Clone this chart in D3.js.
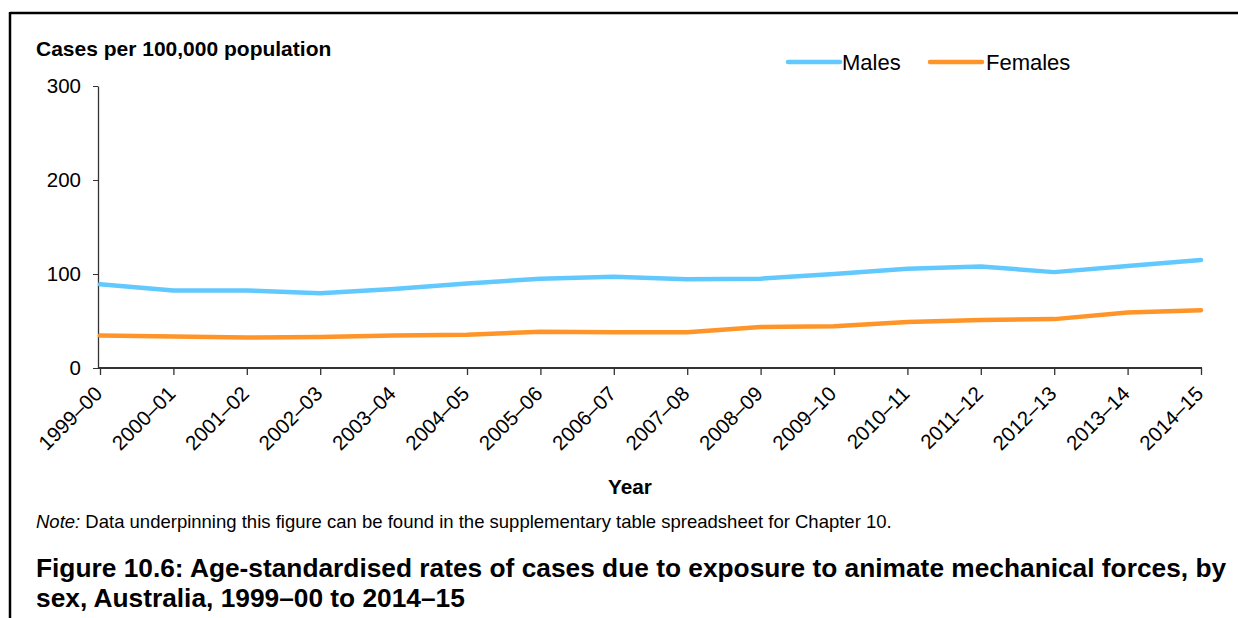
<!DOCTYPE html>
<html><head><meta charset="utf-8">
<script src="https://cdn.jsdelivr.net/npm/d3@7"></script>
<style>body{margin:0;background:#fff}svg{display:block;font-family:Arial,"Liberation Sans",sans-serif}</style>
</head><body><svg id="c" width="1238" height="618"></svg>
<script>
const years = ["1999–00","2000–01","2001–02","2002–03","2003–04","2004–05","2005–06","2006–07","2007–08","2008–09","2009–10","2010–11","2011–12","2012–13","2013–14","2014–15"];
const males = [89, 82.5, 82.5, 79.5, 84, 90, 95, 97, 94.5, 95, 100, 105.5, 108, 102, 108.5, 115];
const females = [34.5, 33.5, 32.5, 33, 34.5, 35.5, 38.5, 38, 38, 43.5, 44.5, 49, 51, 52, 59, 61.5];
const yTicks = [0, 100, 200, 300];
const seriesNames = ["Males", "Females"];
const colors = ["#62C9FF", "#FF9528"];

const FF = "Arial, 'Liberation Sans', sans-serif";
const svg = d3.select("#c");
// border (top and left)
svg.append("line").attr("x1",10).attr("x2",1238).attr("y1",13).attr("y2",13).attr("stroke","#000").attr("stroke-width",2.5);
svg.append("line").attr("x1",10).attr("x2",10).attr("y1",12).attr("y2",618).attr("stroke","#000").attr("stroke-width",2.5);

const x = d3.scalePoint().domain(years).range([100, 1201]);
const y = d3.scaleLinear().domain([0, 300]).range([368, 86]);

const gy = svg.append("g").attr("transform","translate(98,0)")
  .call(d3.axisLeft(y).tickValues(yTicks).tickSize(5).tickSizeOuter(0).tickPadding(12));
gy.select(".domain").attr("stroke","#333").attr("stroke-width",1.3);
gy.selectAll(".tick line").attr("stroke","#333");
gy.selectAll(".tick text").attr("font-size",20.5).attr("fill","#000").attr("font-family",FF);

const gx = svg.append("g").attr("transform","translate(0,368)")
  .call(d3.axisBottom(x).tickSize(7).tickSizeOuter(0));
gx.select(".domain").attr("stroke","#333").attr("stroke-width",2).attr("d","M98,0H1202");
gx.selectAll(".tick line").attr("stroke","#333").attr("stroke-width",1.3);
gx.selectAll(".tick text").attr("font-size",20.5).attr("fill","#000")
  .attr("font-family",FF)
  .attr("text-anchor","end").attr("dy",null).attr("y",0)
  .attr("transform","translate(3,27) rotate(-45)");

const line = d3.line().x((d,i)=>x(years[i])).y(d=>y(d));
[males, females].forEach((s,k)=>{
  svg.append("path").datum(s).attr("d",line).attr("fill","none")
    .attr("stroke",colors[k]).attr("stroke-width",4.5).attr("stroke-linecap","round").attr("stroke-linejoin","round");
});

// legend
const leg = [{x:788, tx:842},{x:930, tx:986}];
seriesNames.forEach((n,k)=>{
  svg.append("line").attr("x1",leg[k].x).attr("x2",leg[k].x+52).attr("y1",62).attr("y2",62)
    .attr("stroke",colors[k]).attr("stroke-width",4.5).attr("stroke-linecap","round");
  svg.append("text").attr("x",leg[k].tx).attr("y",70).attr("font-size",22).text(n);
});

svg.append("text").attr("x",36).attr("y",56).attr("font-size",21).attr("font-weight","bold").text("Cases per 100,000 population");
svg.append("text").attr("x",630).attr("y",494).attr("text-anchor","middle").attr("font-size",20.8).attr("font-weight","bold").text("Year");
const note = svg.append("text").attr("x",36).attr("y",528).attr("font-size",18.5);
note.append("tspan").attr("font-style","italic").text("Note:");
note.append("tspan").text(" Data underpinning this figure can be found in the supplementary table spreadsheet for Chapter 10.");
svg.append("text").attr("x",36).attr("y",577).attr("font-size",26.3).attr("font-weight","bold").text("Figure 10.6: Age-standardised rates of cases due to exposure to animate mechanical forces, by");
svg.append("text").attr("x",36).attr("y",607).attr("font-size",26.3).attr("font-weight","bold").text("sex, Australia, 1999–00 to 2014–15");
</script></body></html>
